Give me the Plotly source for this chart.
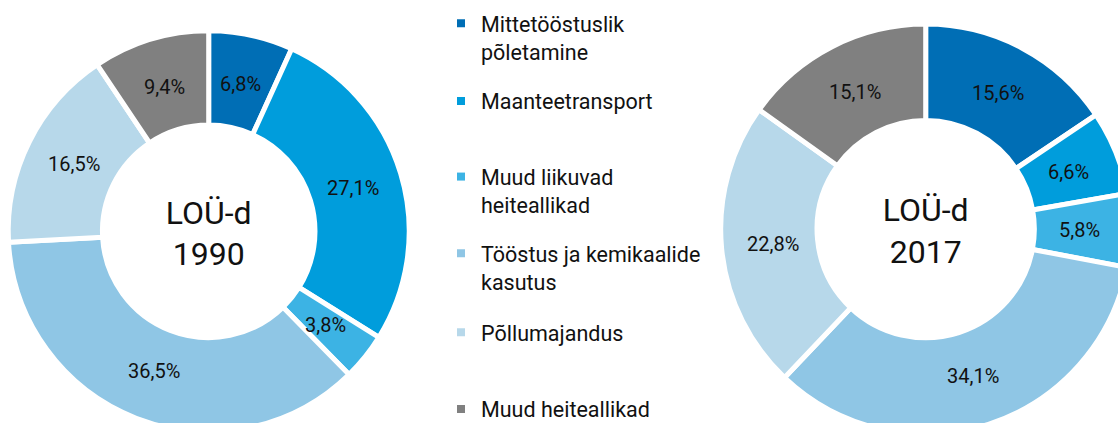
import math
import plotly.graph_objects as go

# ---- data ----
categories = [
    "Mittetööstuslik põletamine",
    "Maanteetransport",
    "Muud liikuvad heiteallikad",
    "Tööstus ja kemikaalide kasutus",
    "Põllumajandus",
    "Muud heiteallikad",
]
legend_labels = [
    "Mittetööstuslik<br>põletamine",
    "Maanteetransport",
    "Muud liikuvad<br>heiteallikad",
    "Tööstus ja kemikaalide<br>kasutus",
    "Põllumajandus",
    "Muud heiteallikad",
]
values_1990 = [6.8, 27.1, 3.8, 36.5, 16.5, 9.4]
values_2017 = [15.6, 6.6, 5.8, 34.1, 22.8, 15.1]
title_1990 = "LOÜ-d<br>1990"
title_2017 = "LOÜ-d<br>2017"

colors = ["#006EB5", "#009DDC", "#3CB3E4", "#8FC6E5", "#B7D8EA", "#808080"]

FONT = "Roboto, 'Noto Sans', sans-serif"
TEXT_COLOR = "#111111"
W, H = 1135, 438
HOLE = 0.53


def px_dom_x(a, b):
    return [a / W, b / W]


def px_dom_y(top, bottom):
    return [(H - bottom) / H, (H - top) / H]


fig = go.Figure()
annotations = []


def add_donut(vals, title, cx, cy, r):
    fig.add_trace(go.Pie(
        labels=categories, values=vals, sort=False, direction="clockwise",
        rotation=0, hole=HOLE,
        marker=dict(colors=colors, line=dict(color="white", width=5)),
        textinfo="none",
        title=dict(text=title, position="middle center",
                   font=dict(family=FONT, size=32, color=TEXT_COLOR)),
        domain=dict(x=px_dom_x(cx - r, cx + r), y=px_dom_y(cy - r, cy + r)),
        showlegend=False, hoverinfo="label+percent",
    ))
    # value labels in the middle of the ring, derived from the data
    total = sum(vals)
    rm = (r + r * HOLE) / 2 - 3
    cum = 0.0
    for v in vals:
        theta = math.radians((cum + v / 2) / total * 360.0)
        cum += v
        px = cx + rm * math.sin(theta)
        py = cy - rm * math.cos(theta)
        annotations.append(dict(
            x=px / W, y=1 - py / H, xref="paper", yref="paper",
            text=f"{v:.1f}%".replace(".", ","), showarrow=False,
            xanchor="center", yanchor="middle",
            font=dict(family=FONT, size=20, color=TEXT_COLOR),
        ))


add_donut(values_1990, title_1990, 208.7, 231.3, 200.5)
add_donut(values_2017, title_2017, 925.7, 229.1, 205.0)

# legend: one legend per entry so that spacing matches
legend_tops = [2.8, 80.4, 156.1, 232.8, 311.8, 388.4]
layout_legends = {}
for i, (lab, col) in enumerate(zip(legend_labels, colors)):
    lname = "legend" if i == 0 else f"legend{i + 1}"
    fig.add_trace(go.Scatter(
        x=[None], y=[None], mode="markers", name=lab,
        marker=dict(symbol="square", size=8, color=col),
        legend=lname, showlegend=True, hoverinfo="skip",
    ))
    layout_legends[lname] = dict(
        x=441 / W, xanchor="left", y=1 - legend_tops[i] / H, yanchor="top",
        valign="top", bgcolor="rgba(0,0,0,0)", borderwidth=0,
        font=dict(family=FONT, size=21.5, color=TEXT_COLOR),
    )

fig.update_layout(
    width=W, height=H,
    margin=dict(l=0, r=0, t=0, b=0),
    paper_bgcolor="white", plot_bgcolor="white",
    separators=", ",
    xaxis=dict(visible=False), yaxis=dict(visible=False),
    annotations=annotations,
    **layout_legends,
)

fig.write_html(
    "out.html",
    config={"displayModeBar": False},
    post_script="document.body.style.margin='0';"
                "document.documentElement.style.overflow='hidden';"
                "document.body.style.overflow='hidden';",
)
